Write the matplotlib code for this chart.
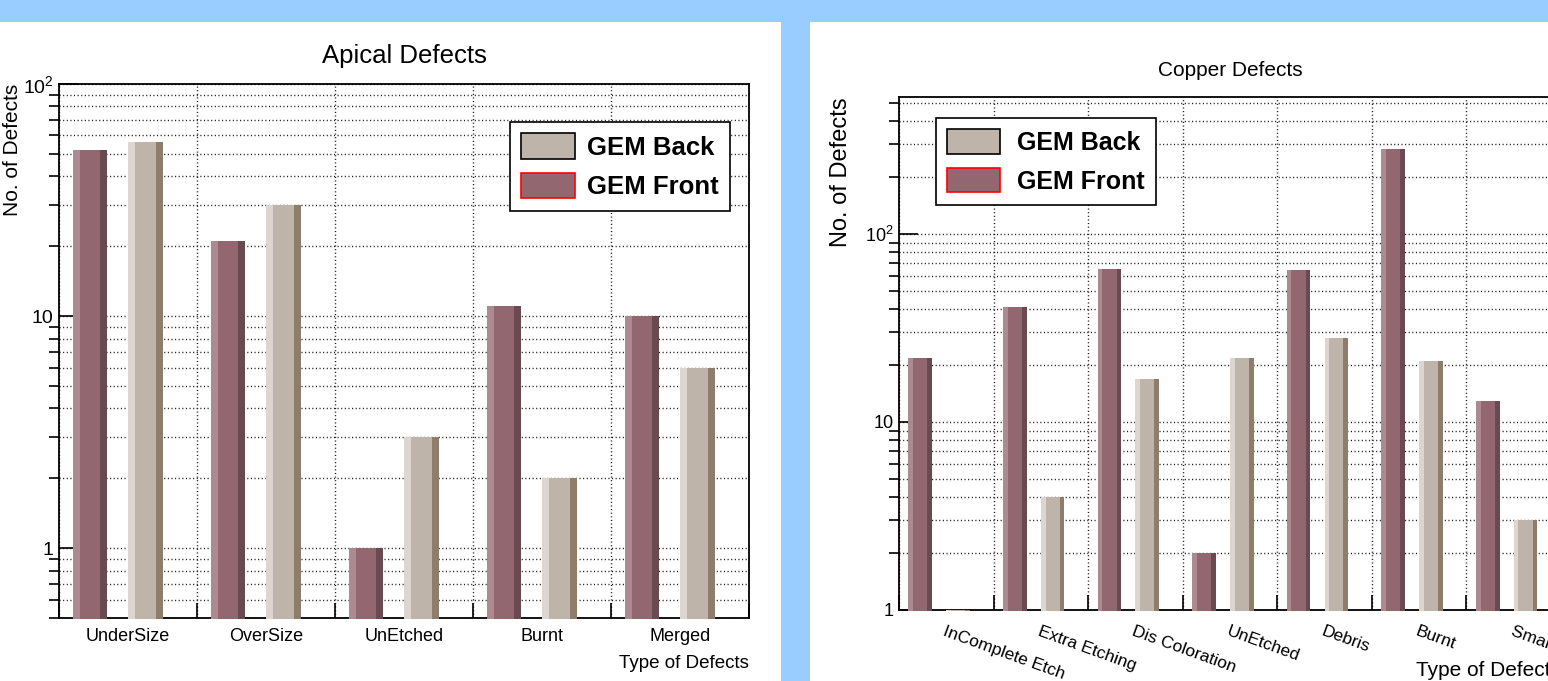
import numpy as np
import matplotlib
matplotlib.use('Agg')
import matplotlib.pyplot as plt
from matplotlib.patches import Patch, Rectangle
from matplotlib.ticker import FixedLocator, FixedFormatter, NullFormatter, LogLocator

plt.rcParams['font.family'] = 'Liberation Sans'
plt.rcParams['mathtext.default'] = 'regular'

# defect counts per category, front and back side of the foil
apical_types = ['UnderSize', 'OverSize', 'UnEtched', 'Burnt', 'Merged']
apical_front = [52, 21, 1, 11, 10]
apical_back = [56, 30, 3, 2, 6]

copper_types = ['InComplete Etch', 'Extra Etching', 'Dis Coloration', 'UnEtched',
                'Debris', 'Burnt', 'Small Holes']
copper_front = [22, 41, 65, 2, 64, 283, 13]
copper_back = [1, 4, 17, 22, 28, 21, 3]

# (light edge, body, dark edge) for the shaded bars
front_col = ('#ad8a91', '#93676f', '#6a4a51')
back_col = ('#ddd6d0', '#bfb4a9', '#8e7d6a')

GRID_LS = (0, (0.8, 1.8))
BAR_W = 0.25


def shaded_bars(ax, vals, base, offset, cols):
    # bars start a hair below the axis floor so they sit over the x-axis line
    left = np.arange(len(vals)) + offset
    h = np.array(vals, dtype=float) - base
    kw = dict(bottom=base, align='edge', clip_on=False)
    ax.bar(left, h, width=BAR_W, color=cols[1], lw=0, zorder=3, **kw)
    ax.bar(left, h, width=0.2 * BAR_W, color=cols[0], lw=0, zorder=3.1, **kw)
    ax.bar(left + 0.8 * BAR_W, h, width=0.2 * BAR_W, color=cols[2], lw=0, zorder=3.1, **kw)


def style_axes(ax, labels, ylim, ytick_font, xtick_font, xpad):
    n = len(labels)
    ax.set_xlim(0, n)
    ax.set_yscale('log')
    ax.set_ylim(*ylim)
    ax.xaxis.set_major_locator(FixedLocator(np.arange(n + 1)))
    ax.xaxis.set_major_formatter(NullFormatter())
    ax.set_xticks(np.arange(n) + 0.5, labels, minor=True, fontsize=xtick_font)
    ax.yaxis.set_major_locator(FixedLocator([1, 10, 100]))
    ax.yaxis.set_major_formatter(FixedFormatter(['1', '10', '$10^{2}$']))
    ax.yaxis.set_minor_locator(LogLocator(base=10, subs=np.arange(2, 10), numticks=50))
    ax.yaxis.set_minor_formatter(NullFormatter())
    ax.tick_params(direction='in', top=False, right=False, colors='black')
    ax.tick_params(axis='y', which='major', length=14, width=1.2, labelsize=ytick_font, pad=4)
    ax.tick_params(axis='y', which='minor', length=7, width=1.2)
    ax.tick_params(axis='x', which='major', length=11, width=1.2)
    ax.tick_params(axis='x', which='minor', length=0, pad=xpad)
    ax.grid(True, axis='x', which='major', ls=GRID_LS, color='#1a1a1a', lw=1.0)
    ax.grid(True, axis='y', which='both', ls=GRID_LS, color='#1a1a1a', lw=1.0)
    for s in ax.spines.values():
        s.set_linewidth(1.3)


def add_legend(ax, anchor, loc, textpad, size):
    handles = [Patch(facecolor=back_col[1], edgecolor='black', lw=1.2, label='GEM Back'),
               Patch(facecolor=front_col[1], edgecolor='red', lw=1.2, label='GEM Front')]
    leg = ax.legend(handles=handles, loc=loc, bbox_to_anchor=anchor, borderaxespad=0,
                    prop={'weight': 'bold', 'size': size}, fancybox=False, framealpha=1,
                    edgecolor='black', handlelength=2.1, handleheight=1.15,
                    handletextpad=textpad, labelspacing=0.5, borderpad=0.45)
    leg.get_frame().set_linewidth(1.2)
    leg.set_zorder(5)


fig = plt.figure(figsize=(15.48, 6.81), dpi=100)
fig.patch.set_facecolor('#99ccff')
fig.add_artist(Rectangle((0, 0), 781 / 1548, 659 / 681, transform=fig.transFigure,
                         facecolor='white', edgecolor='none', zorder=-1))
fig.add_artist(Rectangle((810 / 1548, 0), 738 / 1548, 659 / 681, transform=fig.transFigure,
                         facecolor='white', edgecolor='none', zorder=-1))

# Apical defects
ax1 = fig.add_axes([59 / 1548, 63 / 681, 690 / 1548, 534 / 681])
shaded_bars(ax1, apical_front, 0.497, 0.1, front_col)
shaded_bars(ax1, apical_back, 0.497, 0.5, back_col)
style_axes(ax1, apical_types, (0.5, 100), 14, 13, 7)
ax1.set_title('Apical Defects', fontsize=18.5, pad=15)
ax1.set_ylabel('No. of Defects', fontsize=15, loc='top')
ax1.yaxis.set_label_coords(-0.053, 1.0)
ax1.set_xlabel('Type of Defects', fontsize=13.5, loc='right')
ax1.xaxis.set_label_coords(1.0, -0.07)
add_legend(ax1, (0.9725, 0.929), 'upper right', 0.45, 18.5)

# Copper defects
ax2 = fig.add_axes([899 / 1548, 71 / 681, 662 / 1548, 513 / 681])
shaded_bars(ax2, copper_front, 0.985, 0.1, front_col)
shaded_bars(ax2, copper_back, 0.985, 0.5, back_col)
style_axes(ax2, copper_types, (1, 535), 13, 12.5, 10)
for lbl in ax2.get_xticklabels(minor=True):
    lbl.set_rotation(-20)
    lbl.set_ha('left')
    lbl.set_va('top')
    lbl.set_rotation_mode('anchor')
ax2.set_title('Copper Defects', fontsize=15, pad=15)
ax2.set_ylabel('No. of Defects', fontsize=17, loc='top')
ax2.yaxis.set_label_coords(-0.071, 1.0)
ax2.set_xlabel('Type of Defects', fontsize=15, loc='right')
ax2.xaxis.set_label_coords(1.0, -0.1)
add_legend(ax2, (0.056, 0.959), 'upper left', 0.7, 18)

fig.savefig('out.png', dpi=100, facecolor=fig.get_facecolor())
